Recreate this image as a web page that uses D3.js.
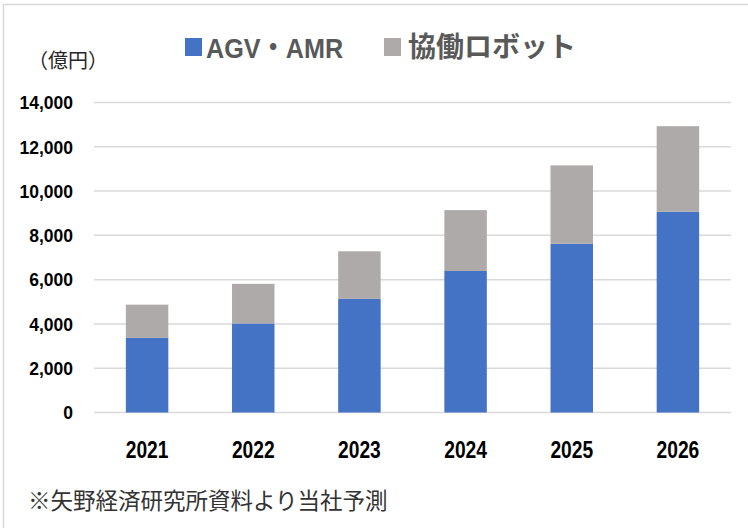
<!DOCTYPE html>
<meta charset="utf-8">
<head>
    <meta charset="utf-8">
    <title>AGV・AMR / 協働ロボット 市場予測</title>
    <script type="text/javascript" src="https://d3js.org/d3.v7.min.js"></script>
</head>

<style type="text/css">
    body {
        margin: 0;
        background-color: #ffffff;
    }

    svg {
        display: block;
    }

    .tick-y {
        font-family: "Liberation Sans", Arial, sans-serif;
        font-weight: bold;
        font-size: 17.5px;
        fill: #000000;
    }

    .tick-x {
        font-family: "Liberation Sans", Arial, sans-serif;
        font-weight: bold;
        font-size: 24px;
        fill: #000000;
    }
</style>

<body>
    <div id="my_dataviz"></div>

    <script>

        // data (億円)
        const years = ["2021", "2022", "2023", "2024", "2025", "2026"];
        const agvAmr = [3370, 4020, 5130, 6390, 7620, 9070];
        const cobot = [1500, 1790, 2150, 2750, 3540, 3860];
        const seriesNames = ["AGV・AMR", "協働ロボット"];
        const yTicks = [0, 2000, 4000, 6000, 8000, 10000, 12000, 14000];

        const W = 748, H = 528;

        const svg = d3.select("#my_dataviz")
            .append("svg")
            .attr("width", W)
            .attr("height", H);

        // light frame (top + left edge only)
        svg.append("line")
            .attr("x1", 3).attr("x2", W).attr("y1", 4.5).attr("y2", 4.5)
            .attr("stroke", "#d9d9d9").attr("stroke-width", 1.5);
        svg.append("line")
            .attr("x1", 3.5).attr("x2", 3.5).attr("y1", 4).attr("y2", H)
            .attr("stroke", "#d9d9d9").attr("stroke-width", 1.5);

        // scales
        const x = d3.scaleBand()
            .domain(years)
            .range([94, 731])
            .paddingInner(0.6)
            .paddingOuter(0.3);

        const y = d3.scaleLinear()
            .domain([0, 14000])
            .range([412.5, 102.5]);

        const color = d3.scaleOrdinal()
            .domain(seriesNames)
            .range(["#4472C4", "#AEAAAA"]);

        // gridlines
        svg.append("g")
            .selectAll("line")
            .data(yTicks)
            .join("line")
            .attr("x1", 94)
            .attr("x2", 731)
            .attr("y1", d => y(d))
            .attr("y2", d => y(d))
            .attr("stroke", "#d9d9d9")
            .attr("stroke-width", 1.5);

        // y axis labels
        const yAxis = svg.append("g")
            .attr("transform", "translate(73,0)")
            .call(d3.axisLeft(y).tickValues(yTicks).tickSize(0).tickPadding(0)
                .tickFormat(d3.format(",")));
        yAxis.select(".domain").remove();
        yAxis.attr("font-family", null).attr("font-size", null);
        yAxis.selectAll("text")
            .attr("class", "tick-y")
            .attr("dy", "0.36em");

        // stacked bars
        const table = years.map((yr, i) => ({ year: yr, "AGV・AMR": agvAmr[i], "協働ロボット": cobot[i] }));
        const stackedData = d3.stack().keys(seriesNames)(table);

        svg.append("g")
            .selectAll("g")
            .data(stackedData)
            .join("g")
            .attr("fill", d => color(d.key))
            .selectAll("rect")
            .data(d => d)
            .join("rect")
            .attr("x", d => x(d.data.year))
            .attr("y", d => y(d[1]))
            .attr("height", d => y(d[0]) - y(d[1]))
            .attr("width", x.bandwidth());

        // x axis labels (condensed look)
        const xAxis = svg.append("g")
            .attr("transform", "translate(0,458)")
            .call(d3.axisBottom(x).tickSize(0).tickPadding(0));
        xAxis.select(".domain").remove();
        xAxis.attr("font-family", null).attr("font-size", null);
        xAxis.selectAll("text")
            .attr("class", "tick-x")
            .attr("dy", 0)
            .attr("y", 0)
            .attr("transform", "scale(0.8,1)");

        // legend
        const legendX = [185, 384];
        const legendTextX = [206, 408];
        const legend = svg.append("g")
            .selectAll("g")
            .data(seriesNames)
            .join("g");
        legend.append("rect")
            .attr("x", (d, i) => legendX[i])
            .attr("y", 38)
            .attr("width", 17)
            .attr("height", 18)
            .attr("fill", d => color(d));
        legend.append("text")
            .attr("transform", (d, i) => i === 0
                ? `translate(${legendTextX[i]},57.5) scale(0.9,1)`
                : `translate(${legendTextX[i]},57)`)
            .attr("fill", "#595959")
            .attr("font-weight", "bold")
            .attr("font-family", (d, i) => i === 0
                ? "'Liberation Sans', Arial, 'Noto Sans CJK JP', sans-serif"
                : "'Noto Sans CJK JP', sans-serif")
            .attr("font-size", (d, i) => i === 0 ? "28px" : "28px")
            .text(d => d);

        // unit label
        svg.append("text")
            .attr("x", 28)
            .attr("y", 68)
            .attr("fill", "#262626")
            .attr("font-family", "'Noto Sans CJK JP', sans-serif")
            .attr("font-size", "20px")
            .text("（億円）");

        // source note
        svg.append("text")
            .attr("x", 28)
            .attr("y", 509)
            .attr("fill", "#333333")
            .attr("font-family", "'Noto Sans CJK JP', sans-serif")
            .attr("font-size", "22.5px")
            .text("※矢野経済研究所資料より当社予測");

    </script>
</body>
</html>
